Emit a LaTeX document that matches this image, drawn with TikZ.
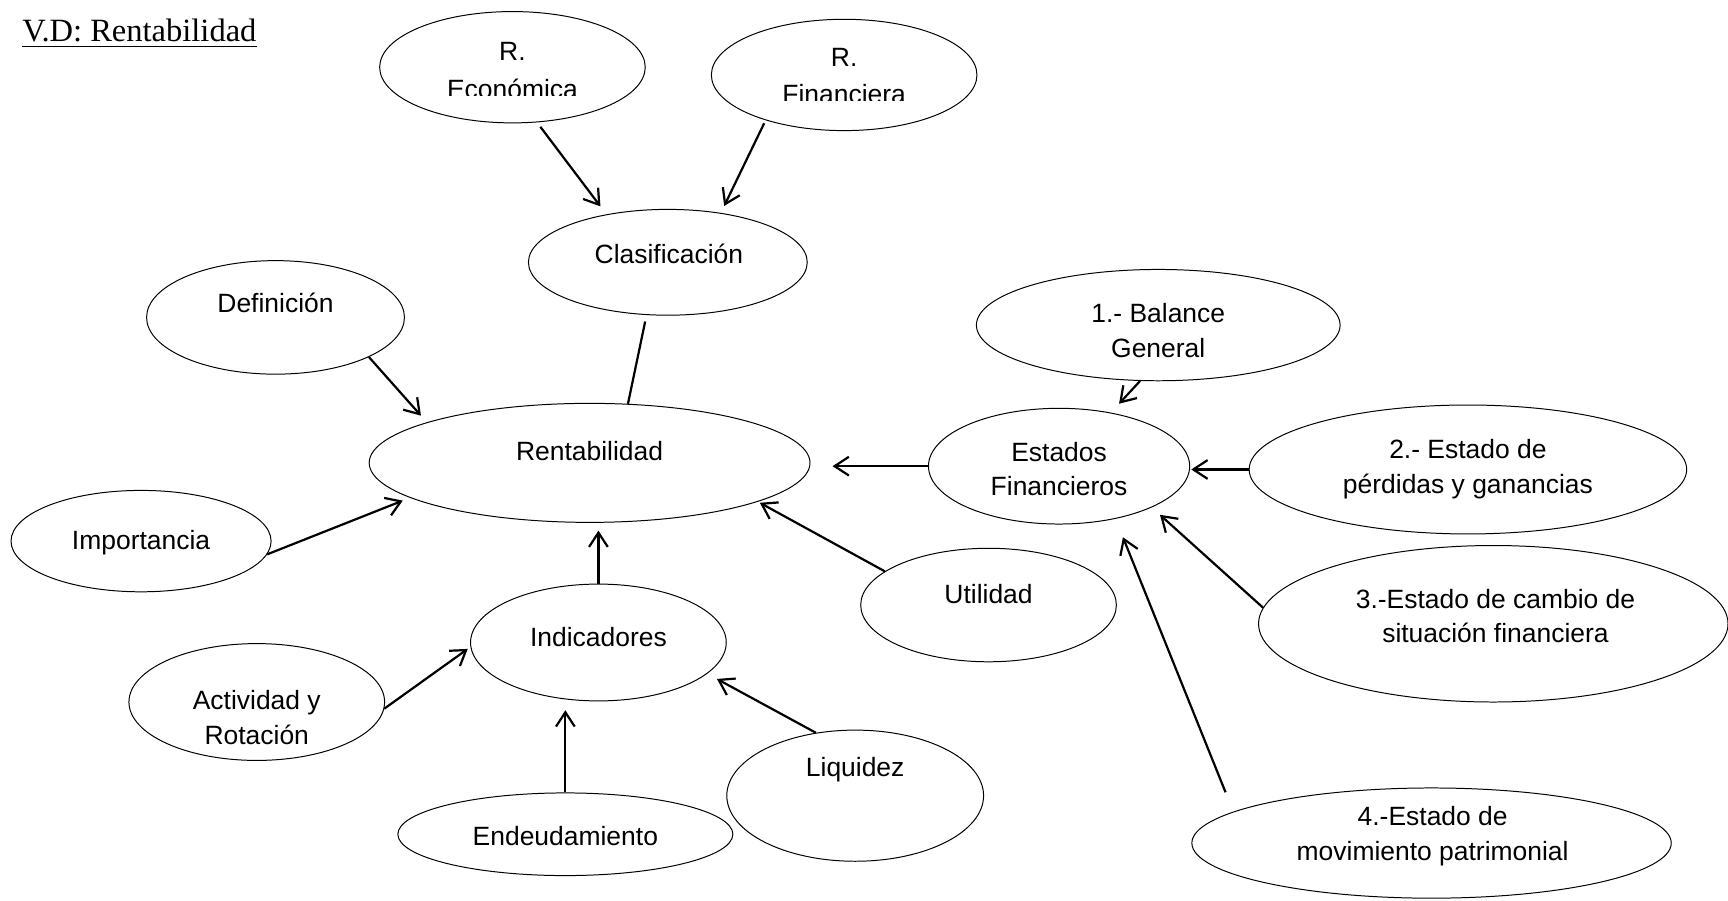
\documentclass[tikz,border=0pt]{standalone}
\usepackage{fontspec}
\setmainfont{Liberation Sans}
\newfontfamily\titlefont{Liberation Serif}
\usetikzlibrary{arrows.meta,shapes.geometric}
\begin{document}
\begin{tikzpicture}[x=1pt,y=-1pt,
  oval/.style={draw,ellipse,inner sep=0pt,line width=0.9pt},
  lbl/.style={font=\fontsize{24}{31.5}\selectfont,align=center,inner sep=0pt},
  wlbl/.style={font=\fontsize{24}{34}\selectfont,align=center,inner sep=0pt},
  arr/.style={line width=2pt,-{Straight Barb[length=13pt,width=17pt,line width=2pt]}},
  con/.style={line width=2pt}]
\useasboundingbox (0,0) rectangle (1568,817);

% title
\node[anchor=base west,inner sep=0pt,font=\titlefont\fontsize{29.5}{34}\selectfont] (title) at (20,38) {V.D: Rentabilidad};
\draw[line width=1.3pt] ([yshift=-4pt]title.base west) -- ([yshift=-4pt]title.base east);

% ellipses
\node[oval,minimum width=241pt,minimum height=101pt] (econ) at (465,61) {};
\node[oval,minimum width=241pt,minimum height=101pt] (fin) at (766,68) {};
\node[oval,minimum width=253pt,minimum height=96pt] (clas) at (606,238) {};
\node[oval,minimum width=234pt,minimum height=103pt] (def) at (250,288) {};
\node[oval,minimum width=400pt,minimum height=108pt] (rent) at (535,420) {};
\node[oval,minimum width=236pt,minimum height=92pt] (imp) at (128,491) {};
\node[oval,minimum width=232pt,minimum height=106pt] (ind) at (543,583) {};
\node[oval,minimum width=232pt,minimum height=106pt] (act) at (233,637) {};
\node[oval,minimum width=304pt,minimum height=75pt] (endeu) at (513,757) {};
\node[oval,minimum width=233pt,minimum height=119pt] (liq) at (776,722) {};
\node[oval,minimum width=232pt,minimum height=103pt] (util) at (897,549) {};
\node[oval,minimum width=237pt,minimum height=105pt] (ef) at (961,423) {};
\node[oval,minimum width=330pt,minimum height=101pt] (bal) at (1051,295) {};
\node[oval,minimum width=397pt,minimum height=117pt] (perd) at (1332,426) {};
\node[oval,minimum width=426pt,minimum height=142pt] (camb) at (1355,566) {};
\node[oval,minimum width=435pt,minimum height=100pt] (mov) at (1299,765) {};

% texts (the two upper ones are cut at the bottom, as in the picture)
\begin{scope}
\clip (344,0) rectangle (586,86.6);
\node[wlbl] (econ-t) at (465,64) {R.\\Económica};
\end{scope}
\begin{scope}
\clip (645,0) rectangle (887,91.6);
\node[wlbl] (fin-t) at (766,69) {R.\\Financiera};
\end{scope}
\node[lbl] (clas-t) at (607,230) {Clasificación};
\node[lbl] (def-t) at (250,275) {Definición};
\node[lbl] (rent-t) at (535,409) {Rentabilidad};
\node[lbl] (imp-t) at (128,492) {Importancia};
\node[lbl] (ind-t) at (543,578) {Indicadores};
\node[lbl] (act-t) at (233,651) {Actividad y\\Rotación};
\node[lbl] (endeu-t) at (513,759) {Endeudamiento};
\node[lbl] (liq-t) at (776,698) {Liquidez};
\node[lbl] (util-t) at (897,539) {Utilidad};
\node[lbl] (ef-t) at (961,425.5) {Estados\\Financieros};
\node[lbl] (bal-t) at (1051,300) {1.- Balance\\General};
\node[lbl] (perd-t) at (1332,426) {2.- Estado de\\pérdidas y ganancias};
\node[lbl] (camb-t) at (1357,559) {3.-Estado de cambio de\\situación financiera};
\node[lbl] (mov-t) at (1300,759) {4.-Estado de\\movimiento patrimonial};

% connectors
\draw[arr,shorten <=5pt,shorten >=9pt] (econ.-66) -- (clas.142);
\draw[arr,shorten <=3pt,shorten >=7pt] (fin.-150) -- (clas.43);
\draw[con,shorten <=6pt] (clas.-112) -- (rent.57);
\draw[arr,shorten >=8pt] (def.-23) -- (rent.166);
\draw[arr,shorten >=7pt] (imp.-6) -- (rent.-169);
\draw[arr,shorten >=7pt] (ind.north) -- (ind.north |- rent.south);
\draw[arr,shorten >=2pt] (util.162) -- (rent.-13);
\draw[arr,shorten >=20pt] (ef.west) -- (ef.west -| rent.east);
\draw[arr,shorten >=3pt] (act.-3) -- (ind.182);
\draw[arr,shorten >=8pt] (endeu.north) -- (endeu.north |- ind.south);
\draw[arr,shorten >=10pt] (liq.122) -- (ind.-16);
\draw[arr,shorten >=11pt] (bal.-108) -- (ef.46);
\draw[arr,shorten >=1pt] (perd.west) -- (perd.west -| ef.east);
\draw[arr,shorten >=10pt] (camb.176) -- (ef.-24);
\draw[arr,shorten <=19pt,shorten >=18pt] (mov.171) -- (ef.-43);
\end{tikzpicture}
\end{document}
